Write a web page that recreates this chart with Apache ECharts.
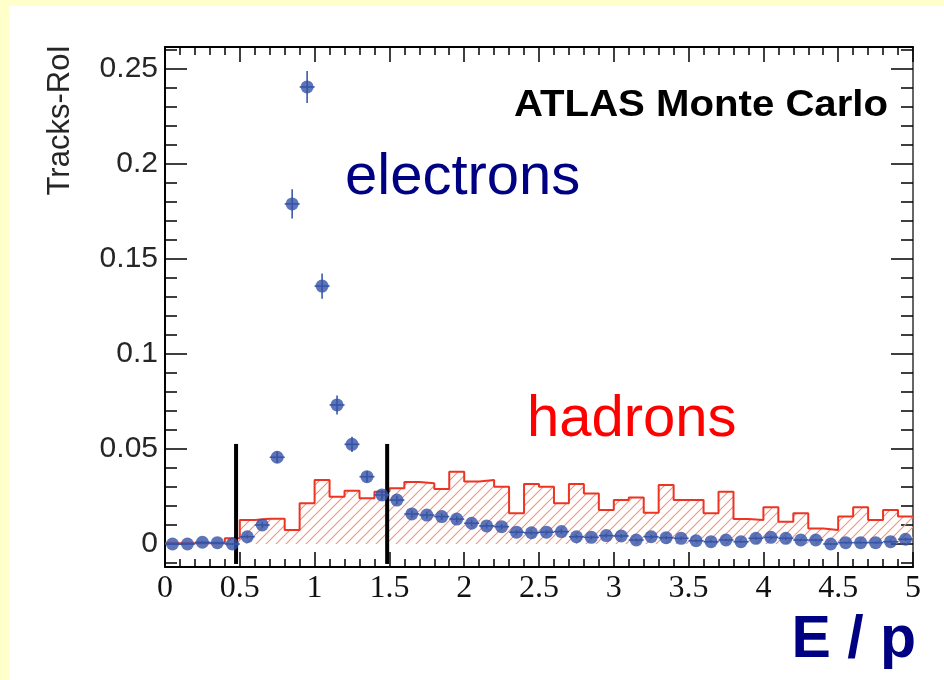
<!DOCTYPE html>
<html>
<head>
<meta charset="utf-8">
<script src="https://cdn.jsdelivr.net/npm/echarts@6/dist/echarts.min.js"></script>
<style>
  html, body { margin: 0; padding: 0; background: #ffffcc; width: 944px; height: 680px; overflow: hidden; }
  #panel { position: absolute; left: 9px; top: 6px; width: 935px; height: 674px; background: #ffffff; }
  #chart { position: absolute; left: 0; top: 0; width: 944px; height: 680px; }
</style>
</head>
<body>
<div id="panel"></div>
<div id="chart"></div>
<script>
// ---------------- data ----------------
const binEdges = [0.0,0.1,0.2,0.3,0.4,0.5,0.6,0.7,0.8,0.9,1.0,1.1,1.2,1.3,1.4,1.5,1.6,1.7,1.8,1.9,
  2.0,2.1,2.2,2.3,2.4,2.5,2.6,2.7,2.8,2.9,3.0,3.1,3.2,3.3,3.4,3.5,3.6,3.7,3.8,3.9,
  4.0,4.1,4.2,4.3,4.4,4.5,4.6,4.7,4.8,4.9,5.0];
const hadronValues = [0.0004,0.0004,0.0004,0.0004,0.0030,0.0126,0.0133,0.0133,0.0074,0.0214,
  0.0336,0.0249,0.0280,0.0240,0.0275,0.0293,0.0326,0.0319,0.0289,0.0380,
  0.0328,0.0336,0.0301,0.0161,0.0315,0.0301,0.0214,0.0315,0.0266,0.0179,
  0.0231,0.0245,0.0164,0.0310,0.0231,0.0231,0.0161,0.0275,0.0131,0.0126,
  0.0193,0.0117,0.0161,0.0082,0.0074,0.0144,0.0193,0.0126,0.0179,0.0144];
const binCenters = [0.05,0.15,0.25,0.35,0.45,0.55,0.65,0.75,0.85,0.95,1.05,1.15,1.25,1.35,1.45,1.55,1.65,1.75,1.85,1.95,
  2.05,2.15,2.25,2.35,2.45,2.55,2.65,2.75,2.85,2.95,3.05,3.15,3.25,3.35,3.45,3.55,3.65,3.75,3.85,3.95,
  4.05,4.15,4.25,4.35,4.45,4.55,4.65,4.75,4.85,4.95];
const electronValues = [0.0000,0.0000,0.0009,0.0007,0.0000,0.0038,0.0100,0.0456,0.1788,0.2403,
  0.1356,0.0731,0.0524,0.0354,0.0258,0.0231,0.0158,0.0152,0.0144,0.0131,
  0.0109,0.0095,0.0091,0.0062,0.0059,0.0062,0.0065,0.0038,0.0035,0.0044,
  0.0042,0.0021,0.0038,0.0033,0.0030,0.0017,0.0012,0.0021,0.0012,0.0030,
  0.0035,0.0030,0.0021,0.0021,0.0000,0.0007,0.0007,0.0007,0.0012,0.0025];
const electronErrors = [0.0005,0.0005,0.0005,0.0005,0.0005,0.0010,0.0015,0.0030,0.0077,0.0084,
  0.0066,0.0050,0.0040,0.0030,0.0025,0.0022,0.0018,0.0018,0.0017,0.0016,
  0.0015,0.0014,0.0014,0.0012,0.0012,0.0012,0.0012,0.0010,0.0010,0.0010,
  0.0010,0.0008,0.0010,0.0009,0.0009,0.0007,0.0006,0.0007,0.0006,0.0009,
  0.0009,0.0009,0.0007,0.0007,0.0005,0.0005,0.0005,0.0005,0.0006,0.0008];
const cutPositions = [0.475, 1.485];
const cutRange = [-0.0105, 0.0526];

const xMajorTicks = [0,0.5,1,1.5,2,2.5,3,3.5,4,4.5,5];
const xMinorTicks = [0.1,0.2,0.3,0.4,0.6,0.7,0.8,0.9,1.1,1.2,1.3,1.4,1.6,1.7,1.8,1.9,
  2.1,2.2,2.3,2.4,2.6,2.7,2.8,2.9,3.1,3.2,3.3,3.4,3.6,3.7,3.8,3.9,4.1,4.2,4.3,4.4,4.6,4.7,4.8,4.9];
const yMajorTicks = [0,0.05,0.1,0.15,0.2,0.25];
const yMinorTicks = [-0.01,0.01,0.02,0.03,0.04,0.06,0.07,0.08,0.09,0.11,0.12,0.13,0.14,
  0.16,0.17,0.18,0.19,0.21,0.22,0.23,0.24,0.26];

const xRange = [0, 5];
const yRange = [-0.0121, 0.2613];

// ---------------- build ----------------
const histData = binEdges.map((e, i) => [e, hadronValues[Math.min(i, hadronValues.length - 1)]]);
const elecData = binCenters.map((c, i) => [c, electronValues[i], electronErrors[i]]);
const binHalf = 0.05;

// hatch pattern
const hatch = document.createElement('canvas');
hatch.width = 10; hatch.height = 10;
(function () {
  const g = hatch.getContext('2d');
  g.fillStyle = 'rgba(255,255,255,0)';
  g.clearRect(0, 0, 10, 10);
  g.strokeStyle = '#f3907c';
  g.lineWidth = 1.1;
  g.beginPath();
  g.moveTo(-1, 11); g.lineTo(11, -1);
  g.moveTo(-1, 1); g.lineTo(1, -1);
  g.moveTo(9, 11); g.lineTo(11, 9);
  g.stroke();
})();

const BLACK = '#000';
function xAx(pos, ticks, len, showLabel, showLine) {
  return {
    type: 'value', position: pos, min: xRange[0], max: xRange[1],
    axisLine: { show: showLine, onZero: false, lineStyle: { color: BLACK, width: 2 } },
    axisTick: { show: true, inside: true, length: len, customValues: ticks, lineStyle: { color: BLACK, width: 1.5 } },
    axisLabel: showLabel ? { show: true, customValues: ticks, margin: 6, fontFamily: 'Liberation Serif', fontSize: 32, color: '#111' } : { show: false },
    splitLine: { show: false }
  };
}
function yAx(pos, ticks, len, showLabel, showLine, lineColor) {
  return {
    type: 'value', position: pos, min: yRange[0], max: yRange[1],
    axisLine: { show: showLine, onZero: false, lineStyle: { color: lineColor || BLACK, width: 2 } },
    axisTick: { show: true, inside: true, length: len, customValues: ticks, lineStyle: { color: BLACK, width: 1.5 } },
    axisLabel: showLabel ? { show: true, customValues: ticks, margin: 7, fontFamily: 'Liberation Sans', fontSize: 30, color: '#262626' } : { show: false },
    splitLine: { show: false }
  };
}

const chart = echarts.init(document.getElementById('chart'), null, { renderer: 'canvas' });
const option = {
  backgroundColor: 'transparent',
  animation: false,
  grid: { left: 165, right: 31, top: 47, bottom: 113, containLabel: false },
  xAxis: [
    xAx('bottom', xMajorTicks, 15, true, true),
    xAx('bottom', xMinorTicks, 8, false, false),
    xAx('top', xMajorTicks, 15, false, true),
    xAx('top', xMinorTicks, 8, false, false)
  ],
  yAxis: [
    yAx('left', yMajorTicks, 22, true, true),
    yAx('left', yMinorTicks, 12, false, false),
    yAx('right', yMajorTicks, 22, false, true, '#666'),
    yAx('right', yMinorTicks, 12, false, false)
  ],
  series: [
    {
      name: 'hadrons', type: 'line', step: 'end', data: histData,
      xAxisIndex: 0, yAxisIndex: 0, showSymbol: false, symbol: 'none',
      lineStyle: { color: '#ee3322', width: 2 },
      areaStyle: { color: { image: hatch, repeat: 'repeat' }, opacity: 1 },
      z: 2
    },
    {
      name: 'cutLow', type: 'line', data: [[cutPositions[0], cutRange[0]], [cutPositions[0], cutRange[1]]],
      showSymbol: false, symbol: 'none', lineStyle: { color: '#000', width: 4 }, z: 3
    },
    {
      name: 'cutHigh', type: 'line', data: [[cutPositions[1], cutRange[0]], [cutPositions[1], cutRange[1]]],
      showSymbol: false, symbol: 'none', lineStyle: { color: '#000', width: 4 }, z: 3
    },
    {
      name: 'electronErrors', type: 'custom', data: elecData, z: 4,
      renderItem: function (params, api) {
        const x = api.value(0), y = api.value(1), e = api.value(2);
        const t = api.coord([x, y + e]), b = api.coord([x, y - e]);
        const l = api.coord([x - binHalf, y]), r = api.coord([x + binHalf, y]);
        const st = { stroke: '#3a5aae', lineWidth: 1.6 };
        return {
          type: 'group', children: [
            { type: 'line', shape: { x1: t[0], y1: t[1], x2: b[0], y2: b[1] }, style: st },
            { type: 'line', shape: { x1: l[0], y1: l[1], x2: r[0], y2: r[1] }, style: st }
          ]
        };
      }
    },
    {
      name: 'electrons', type: 'scatter', data: elecData.map(d => [d[0], d[1]]),
      symbol: 'circle', symbolSize: 13, itemStyle: { color: '#3453a6' }, z: 5
    }
  ],
  graphic: [
    {
      type: 'text', x: 60, y: 45, rotation: Math.PI / 2,
      style: { text: 'Tracks-RoI', fontFamily: 'Liberation Sans', fontSize: 31, fill: '#262626', textAlign: 'right', textVerticalAlign: 'middle' }
    },
    {
      type: 'text', x: 888, y: 106, scaleX: 1.085,
      style: { text: 'ATLAS Monte Carlo', fontFamily: 'Liberation Sans', fontWeight: 'bold', fontSize: 37, fill: '#000', textAlign: 'right', textVerticalAlign: 'middle' }
    },
    {
      type: 'text', x: 345, y: 178,
      style: { text: 'electrons', fontFamily: 'Liberation Sans', fontSize: 58, fill: '#000082', textAlign: 'left', textVerticalAlign: 'middle' }
    },
    {
      type: 'text', x: 527, y: 420,
      style: { text: 'hadrons', fontFamily: 'Liberation Sans', fontSize: 58, fill: '#ff0000', textAlign: 'left', textVerticalAlign: 'middle' }
    },
    {
      type: 'text', x: 916, y: 641,
      style: { text: 'E / p', fontFamily: 'Liberation Sans', fontWeight: 'bold', fontSize: 59, fill: '#000082', textAlign: 'right', textVerticalAlign: 'middle' }
    }
  ]
};
chart.setOption(option);
</script>
</body>
</html>
